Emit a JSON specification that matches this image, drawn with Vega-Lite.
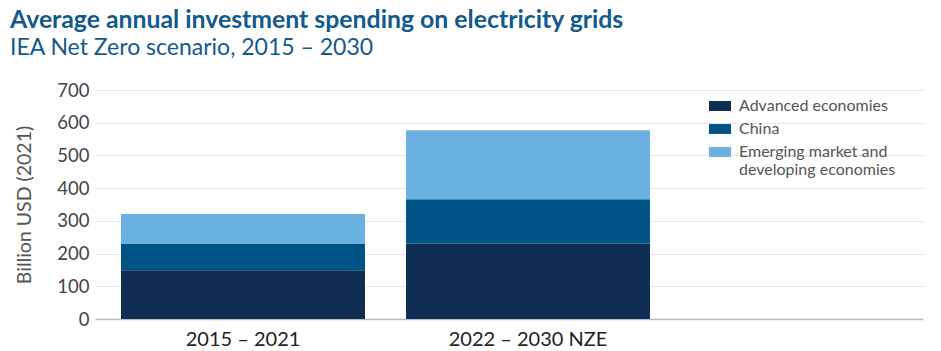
{
  "$schema": "https://vega.github.io/schema/vega-lite/v6.json",
  "autosize": "none",
  "width": 828,
  "height": 229,
  "padding": {"left": 95, "top": 90, "right": 18, "bottom": 32},
  "background": "white",
  "title": {
    "text": "Average annual investment spending on electricity grids",
    "subtitle": "IEA Net Zero scenario, 2015 – 2030",
    "anchor": "start",
    "frame": "group",
    "dx": -85,
    "offset": 21,
    "font": "Lato",
    "fontSize": 24.8,
    "fontWeight": "bold",
    "color": "#125a8c",
    "subtitleFont": "Lato",
    "subtitleFontSize": 23,
    "subtitleColor": "#125a8c",
    "subtitlePadding": 4
  },
  "data": {
    "values": [
      {"period": "2015 – 2021", "region": "Advanced economies", "value": 149},
      {"period": "2015 – 2021", "region": "China", "value": 82},
      {"period": "2015 – 2021", "region": "Emerging market and developing economies", "value": 90},
      {"period": "2022 – 2030 NZE", "region": "Advanced economies", "value": 231},
      {"period": "2022 – 2030 NZE", "region": "China", "value": 135},
      {"period": "2022 – 2030 NZE", "region": "Emerging market and developing economies", "value": 211}
    ]
  },
  "mark": {"type": "bar"},
  "encoding": {
    "x": {
      "field": "period",
      "type": "nominal",
      "sort": null,
      "scale": {"paddingInner": 0.144, "paddingOuter": 0.5246, "align": 0.087},
      "axis": {
        "title": null,
        "labelAngle": 0,
        "labelFont": "Lato",
        "labelFontSize": 20,
        "labelColor": "#222222",
        "labelPadding": 10,
        "ticks": false,
        "domainColor": "#bbbbbb",
        "domainWidth": 1.5
      }
    },
    "y": {
      "field": "value",
      "type": "quantitative",
      "stack": "zero",
      "scale": {"domain": [0, 700]},
      "axis": {
        "title": "Billion USD (2021)",
        "titleFont": "Lato",
        "titleFontSize": 19.5,
        "titleFontWeight": "normal",
        "titleColor": "#555555",
        "titlePadding": 22,
        "values": [0, 100, 200, 300, 400, 500, 600, 700],
        "labelFont": "Lato",
        "labelFontSize": 18.5,
        "labelColor": "#444444",
        "labelPadding": 6,
        "ticks": false,
        "domain": false,
        "gridColor": "#e6e6e6"
      }
    },
    "color": {
      "field": "region",
      "type": "nominal",
      "scale": {
        "domain": ["Advanced economies", "China", "Emerging market and developing economies"],
        "range": ["#0f2c52", "#005385", "#6ab1e1"]
      },
      "legend": {
        "title": null,
        "orient": "none",
        "legendX": 614,
        "legendY": 5,
        "symbolType": "M-1,-0.45H1V0.45H-1Z",
        "symbolSize": 484,
        "symbolStrokeWidth": 0,
        "symbolOpacity": 1,
        "labelFont": "Lato",
        "labelFontSize": 16,
        "labelColor": "#555555",
        "labelOffset": 8,
        "rowPadding": 4,
        "labelLimit": 300,
        "labelExpr": "datum.label == 'Emerging market and developing economies' ? ['Emerging market and', 'developing economies'] : datum.label"
      }
    },
    "order": {"field": "region", "sort": "ascending"}
  },
  "config": {
    "view": {"stroke": null}
  }
}
